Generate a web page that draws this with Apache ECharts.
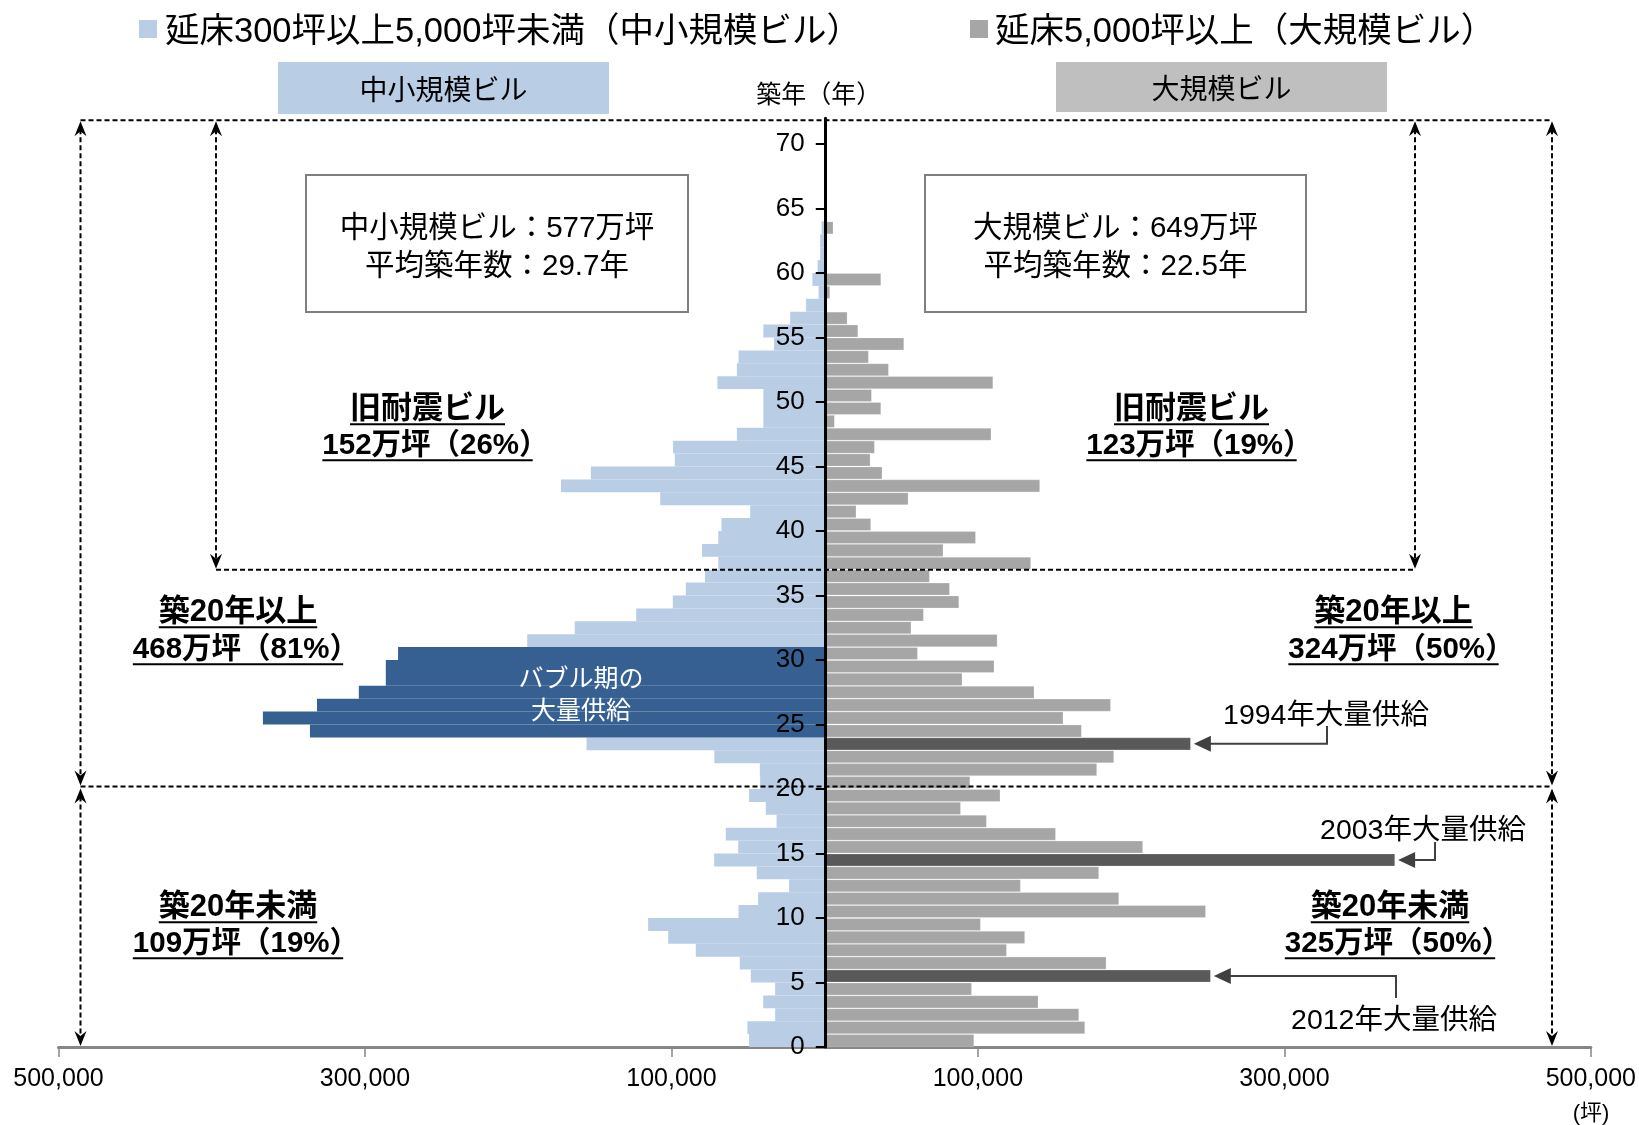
<!DOCTYPE html>
<html><head><meta charset="utf-8">
<script src="https://cdn.jsdelivr.net/npm/echarts@6/dist/echarts.min.js"></script>
<style>html,body{margin:0;padding:0;background:#fff}#c{width:1639px;height:1125px}</style>
</head><body><div id="c"></div>
<script>
// ---- data (index = building age in years) ----
const ageCategories = Array.from({length: 72}, (_, i) => String(i));
const smallBldg = [49300, 50400, 32300, 40100, 32300, 48200, 55400, 84100, 102100, 115200,
  56200, 43400, 23200, 44300, 72100, 56400, 64500, 31400, 38400, 49300,
  42100, 42300, 72000, 155400, 335900, 366600, 331300, 304000, 286400, 286400,
  278400, 194100, 163100, 123000, 99100, 90600, 78100, 69400, 80000, 69400,
  67300, 48600, 107300, 172100, 152600, 97800, 98900, 57300, 40000, 40000,
  40000, 70000, 57300, 56200, 33000, 40000, 22500, 12300, 4000, 8000,
  4700, 3100, 3100, 2000];
const largeBldg = [97600, 170000, 166100, 139500, 96100, 252000, 183900, 118900, 130800, 101900,
  248800, 192200, 128000, 179100, 372300, 207800, 150900, 105800, 88900, 114700,
  95000, 177800, 188900, 239000, 167800, 155800, 186800, 136900, 89900, 110800,
  60800, 112800, 56600, 64700, 87800, 81700, 68600, 134700, 77500, 98700,
  30300, 20700, 54700, 140600, 37700, 29900, 32700, 108800, 6600, 36900,
  30800, 110000, 41900, 28800, 51900, 21900, 14900, 0, 3600, 36900,
  0, 0, 0, 5700];
const bubbleAges = [24, 25, 26, 27, 28, 29, 30];
const peakAges = [23, 14, 5];
const peakLabels = ['1994年大量供給', '2003年大量供給', '2012年大量供給'];
const xTickValues = [-500000, -300000, -100000, 100000, 300000, 500000];
const yTickValues = [0, 5, 10, 15, 20, 25, 30, 35, 40, 45, 50, 55, 60, 65, 70];

const LB = '#B9CDE5', DB = '#366092', GR = '#A6A6A6', DG = '#595959';
const FF = '"Liberation Sans", "Noto Sans CJK JP", sans-serif';
const GRID_L = 58.5, GRID_R = 48, W = 1639;
const centerOffset = ((W - GRID_L - GRID_R) / 2);

const chart = echarts.init(document.getElementById('c'));
chart.setOption({
  animation: false,
  grid: {left: GRID_L, right: GRID_R, top: 118.2, bottom: 78, containLabel: false},
  xAxis: {
    type: 'value', min: -500000, max: 500000,
    axisLine: {onZero: false, lineStyle: {color: '#868686', width: 3}},
    axisTick: {show: true, length: 10, customValues: xTickValues, lineStyle: {color: '#868686', width: 1.5}},
    axisLabel: {customValues: xTickValues, margin: 20, color: '#000', fontSize: 25, fontFamily: FF,
      formatter: v => Math.abs(v).toLocaleString('en-US')},
    splitLine: {show: false}
  },
  yAxis: [{
    type: 'value', min: 0, max: 72, z: 10, position: 'left', offset: -centerOffset,
    axisLine: {show: true, onZero: false, lineStyle: {color: '#000', width: 3}},
    axisTick: {show: true, length: 9, customValues: yTickValues, lineStyle: {color: '#000', width: 2}},
    axisLabel: {customValues: yTickValues, margin: 20, color: '#000', fontSize: 26, fontFamily: FF,
      padding: [0, 0, 8, 0]},
    splitLine: {show: false}
  }, {
    type: 'category', data: ageCategories, show: false, boundaryGap: true
  }],
  series: [{
    name: '中小規模ビル', type: 'bar', yAxisIndex: 1, stack: 'age', barCategoryGap: '0%',
    data: smallBldg.map((v, i) => ({value: -v, itemStyle: {color: bubbleAges.includes(i) ? DB : LB}}))
  }, {
    name: '大規模ビル', type: 'bar', yAxisIndex: 1, stack: 'age', barCategoryGap: '0%',
    itemStyle: {borderColor: 'rgba(255,255,255,0.3)', borderWidth: 0.8},
    data: largeBldg.map((v, i) => ({value: v, itemStyle: {color: peakAges.includes(i) ? DG : GR}}))
  }]
});

// ---- annotations ----
const P = (x, y) => chart.convertToPixel({xAxisIndex: 0, yAxisIndex: 0}, [x, y]);
const mctx = document.createElement('canvas').getContext('2d');
const tw = (font, s) => { mctx.font = font; return mctx.measureText(s).width; };
const G = [];
const DY = 4; // vertical correction for CJK glyph baseline
function txt(x, y, s, size, o) {
  o = o || {};
  const font = (o.bold ? 'bold ' : '') + size + 'px ' + FF;
  let align = o.align || 'center';
  const w = tw(font, s);
  let vw = w;
  if (s.endsWith('）')) vw = w - 0.54 * size;
  let x0 = x;
  if (align === 'center') { x0 = x - vw / 2; align = 'left'; }
  G.push({type: 'text', z: 100, x: x0, y: y + DY, style: {text: s, font: font, fill: o.color || '#000',
    align: 'left', verticalAlign: 'middle', textAlign: 'left', textVerticalAlign: 'middle'}});
  if (o.underline) {
    const uy = y + size * 0.62;
    G.push({type: 'line', z: 100, shape: {x1: x0, y1: uy, x2: x0 + vw, y2: uy},
      style: {stroke: '#000', lineWidth: 2}});
  }
}
function line(x1, y1, x2, y2, o) {
  o = o || {};
  G.push({type: 'line', z: 90, shape: {x1, y1, x2, y2},
    style: {stroke: o.color || '#000', lineWidth: o.w || 2, lineDash: o.dash ? [5, 3] : null}});
}
function rect(x, y, w, h, fill, stroke) {
  G.push({type: 'rect', z: 80, shape: {x, y, width: w, height: h},
    style: {fill: fill || 'none', stroke: stroke || null, lineWidth: stroke ? 2 : 0}});
}
function vHead(x, y, dir) { // dir 1: pointing down, -1: pointing up
  G.push({type: 'polygon', z: 95, shape: {points: [[x, y], [x - 6, y - dir * 15], [x, y - dir * 10], [x + 6, y - dir * 15]]},
    style: {fill: '#000'}});
}
function dArrow(x, y1, y2) {
  line(x, y1 + 8, x, y2 - 8, {dash: true});
  vHead(x, y1, -1); vHead(x, y2, 1);
}

// legend
rect(139, 20, 18, 18, LB);
txt(165, 28, '延床300坪以上5,000坪未満（中小規模ビル）', 34.5, {align: 'left'});
rect(970, 20, 18, 18, GR);
txt(995, 28, '延床5,000坪以上（大規模ビル）', 34.5, {align: 'left'});

// header boxes
rect(278, 62, 331, 52, LB);
txt(443.5, 88, '中小規模ビル', 28);
rect(1056, 62, 331, 50, '#BFBFBF');
txt(1221.5, 87, '大規模ビル', 28);
txt(812, 92, '築年（年）', 25);

// info boxes
rect(306, 175, 382, 137, '#fff', '#7F7F7F');
txt(497, 225, '中小規模ビル：577万坪', 29.5);
txt(497, 263, '平均築年数：29.7年', 29.5);
rect(925, 175, 381, 137, '#fff', '#7F7F7F');
txt(1115.5, 225, '大規模ビル：649万坪', 29.5);
txt(1115.5, 263, '平均築年数：22.5年', 29.5);

// dashed frame
const yTop = P(0, 72)[1] + 2;
const y37 = P(0, 37)[1];
const y20 = P(0, 20.2)[1];
const yBot = P(0, 0)[1];
line(80.5, yTop, 1552, yTop, {dash: true});
line(216, y37, 1415, y37, {dash: true});
line(80.5, y20, 1552, y20, {dash: true});
dArrow(80.5, yTop + 1, y20 - 1);
dArrow(80.5, y20 + 2, yBot - 1);
dArrow(1552, yTop + 1, y20 - 1);
dArrow(1552, y20 + 2, yBot - 1);
dArrow(216, yTop + 1, y37 - 1);
dArrow(1415, yTop + 1, y37 - 1);

// bold section labels
const T1 = 31, T2 = 29.5;
const sec = [
  [427.5, 405, 442, '旧耐震ビル', '152万坪（26%）'],
  [1191.5, 405, 442, '旧耐震ビル', '123万坪（19%）'],
  [238, 608, 646, '築20年以上', '468万坪（81%）'],
  [1393.5, 608, 646, '築20年以上', '324万坪（50%）'],
  [238, 903, 940, '築20年未満', '109万坪（19%）'],
  [1390, 903, 940, '築20年未満', '325万坪（50%）']
];
sec.forEach(s => {
  txt(s[0], s[1], s[3], T1, {bold: true, underline: true});
  txt(s[0], s[2], s[4], T2, {bold: true, underline: true});
});

// bubble text
const yBub = P(0, 27.5)[1];
txt(581, yBub - 16, 'バブル期の', 25, {color: '#fff'});
txt(581, yBub + 16, '大量供給', 25, {color: '#fff'});

// peak supply arrows
const peakText = [[1326, 712, 1327, 726], [1423, 827, 1435, 842], [1394, 1017, 1396, 998]];
peakAges.forEach((a, k) => {
  const tip = P(largeBldg[a], a + 0.5);
  const tx = tip[0] + 3, ty = tip[1];
  const [cx, cy, ex, ey] = peakText[k];
  G.push({type: 'polygon', z: 95, shape: {points: [[tx, ty], [tx + 17, ty - 8], [tx + 17, ty + 8]]}, style: {fill: '#404040'}});
  G.push({type: 'polyline', z: 94, shape: {points: [[tx + 15, ty], [ex, ty], [ex, ey]]}, style: {stroke: '#404040', lineWidth: 2, fill: null}});
  txt(cx, cy, peakLabels[k], 28.5);
});

// unit
txt(1591, 1110, '(坪)', 22);

chart.setOption({graphic: {elements: G}});
</script></body></html>
